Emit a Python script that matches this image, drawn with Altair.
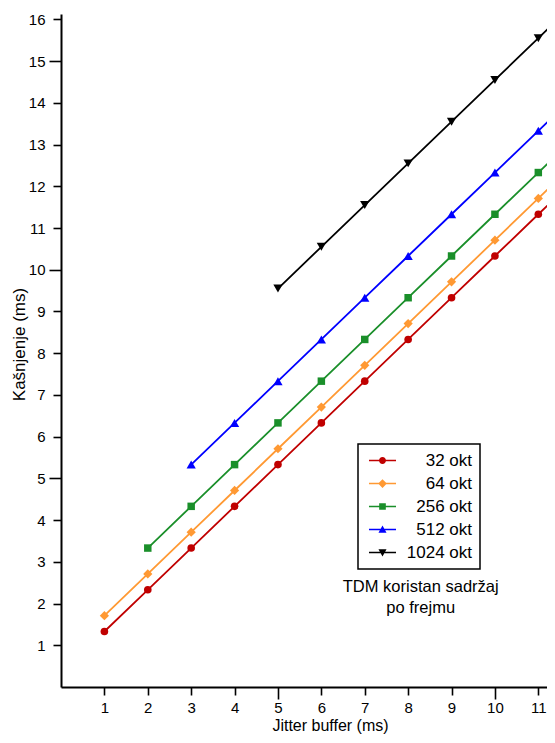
import altair as alt
import pandas as pd

series_names = ["32 okt", "64 okt", "256 okt", "512 okt", "1024 okt"]
series_colors = ["#C00000", "#FF9933", "#1A8F2A", "#0000FF", "#000000"]
series_shapes = ["circle", "diamond", "square", "triangle-up", "triangle-down"]
series_marker_sizes = [58, 85, 56, 85, 85]

x_32 = [1, 2, 3, 4, 5, 6, 7, 8, 9, 10, 11, 12]
y_32 = [1.33, 2.33, 3.33, 4.33, 5.33, 6.33, 7.33, 8.33, 9.33, 10.33, 11.33, 12.33]
x_64 = [1, 2, 3, 4, 5, 6, 7, 8, 9, 10, 11, 12]
y_64 = [1.71, 2.71, 3.71, 4.71, 5.71, 6.71, 7.71, 8.71, 9.71, 10.71, 11.71, 12.71]
x_256 = [2, 3, 4, 5, 6, 7, 8, 9, 10, 11, 12]
y_256 = [3.33, 4.33, 5.33, 6.33, 7.33, 8.33, 9.33, 10.33, 11.33, 12.33, 13.33]
x_512 = [3, 4, 5, 6, 7, 8, 9, 10, 11, 12]
y_512 = [5.33, 6.33, 7.33, 8.33, 9.33, 10.33, 11.33, 12.33, 13.33, 14.33]
x_1024 = [5, 6, 7, 8, 9, 10, 11, 12]
y_1024 = [9.55, 10.55, 11.55, 12.55, 13.55, 14.55, 15.55, 16.55]

x_ticks = [1, 2, 3, 4, 5, 6, 7, 8, 9, 10, 11, 12]
y_ticks = [1, 2, 3, 4, 5, 6, 7, 8, 9, 10, 11, 12, 13, 14, 15, 16]

annotation_text = ["TDM koristan sadržaj", "po frejmu"]

rows = []
for name, xs, ys in zip(series_names,
                        [x_32, x_64, x_256, x_512, x_1024],
                        [y_32, y_64, y_256, y_512, y_1024]):
    for xv, yv in zip(xs, ys):
        rows.append({"Serija": name, "x": xv, "y": yv})
df = pd.DataFrame(rows)

FONT = "Liberation Sans"

x_scale = alt.Scale(domain=[0, 11.2], nice=False, zero=False)
y_scale = alt.Scale(domain=[0, 16.13], nice=False, zero=False)
color_scale = alt.Scale(domain=series_names, range=series_colors)

major_tick = {"condition": {"test": "datum.value % 5 === 0", "value": 12}, "value": 8}
x_label_pad = {"condition": {"test": "datum.value % 5 === 0", "value": 1}, "value": 5}
y_label_pad = {"condition": {"test": "datum.value % 5 === 0", "value": 4}, "value": 8}

x_axis = alt.Axis(values=x_ticks, title="Jitter buffer (ms)", grid=False,
                  tickSize=major_tick, labelPadding=x_label_pad,
                  titleX=269, titlePadding=2, titleFontSize=16)
y_axis = alt.Axis(values=y_ticks, title="Kašnjenje (ms)", grid=False,
                  tickSize=major_tick, labelPadding=y_label_pad,
                  titleY=330, titlePadding=0, titleFontSize=17)

# custom legend glyphs: a short line with the marker on it
line_part = "M-3.86,-0.22H3.86V0.22H-3.86Z"
glyphs = {
    "32 okt": line_part + "M1,0A1,1,0,1,1,-1,0A1,1,0,1,1,1,0Z",
    "64 okt": line_part + "M0,-1.25L1.25,0L0,1.25L-1.25,0Z",
    "256 okt": line_part + "M-0.95,-0.95H0.95V0.95H-0.95Z",
    "512 okt": line_part + "M0,-1.15L1.15,0.9L-1.15,0.9Z",
    "1024 okt": line_part + "M0,1.15L-1.15,-0.9L1.15,-0.9Z",
}
shape_expr = " : ".join(
    [f"datum.value === '{k}' ? '{v}'" for k, v in glyphs.items()]
) + " : 'circle'"

legend = alt.Legend(
    title=None,
    orient="none",
    legendX=297,
    legendY=430,
    padding=8,
    labelFont=FONT,
    labelFontSize=17,
    labelColor="black",
    labelAlign="right",
    labelOffset=81,
    symbolOffset=8,
    symbolSize=49,
    symbolStrokeWidth=0,
    symbolOpacity=1,
    symbolType=alt.ExprRef(shape_expr),
    symbolFillColor=alt.ExprRef("scale('color', datum.value)"),
    rowPadding=5,
)

base = alt.Chart(df)

lines = base.mark_line(strokeWidth=1.8, clip=True).encode(
    x=alt.X("x:Q", scale=x_scale, axis=x_axis),
    y=alt.Y("y:Q", scale=y_scale, axis=y_axis),
    color=alt.Color("Serija:N", scale=color_scale, legend=legend),
    detail="Serija:N",
)

point_layers = []
for name, shape, msize in zip(series_names, series_shapes, series_marker_sizes):
    point_layers.append(
        base.transform_filter(alt.datum.Serija == name)
        .mark_point(filled=True, shape=shape, size=msize, opacity=1, clip=True)
        .encode(
            x=alt.X("x:Q", scale=x_scale),
            y=alt.Y("y:Q", scale=y_scale),
            color=alt.Color("Serija:N", scale=color_scale, legend=legend),
        )
    )

ann_df = pd.DataFrame({"x": [8.29], "y": [2.28], "t": [annotation_text]})
annotation = alt.Chart(ann_df).mark_text(
    font=FONT, fontSize=16.5, color="black", align="center", baseline="alphabetic",
    lineHeight=21,
).encode(
    x=alt.X("x:Q", scale=x_scale),
    y=alt.Y("y:Q", scale=y_scale),
    text="t",
)

chart = alt.layer(lines, *point_layers, annotation).properties(
    width=486,
    height=673,
    padding={"left": 53, "top": 6, "right": 0, "bottom": 48},
    autosize=alt.AutoSizeParams(type="none"),
).configure_view(
    stroke=None
).configure_legend(
    strokeColor="black",
    strokeWidth=1.5,
).configure_axis(
    domainColor="black",
    domainWidth=2,
    tickColor="black",
    tickWidth=1.6,
    labelFont=FONT,
    labelFontSize=15,
    labelColor="black",
    titleFont=FONT,
    titleFontWeight="normal",
    titleColor="black",
)

chart.save("out.html", embed_options={"renderer": "svg", "actions": False})
